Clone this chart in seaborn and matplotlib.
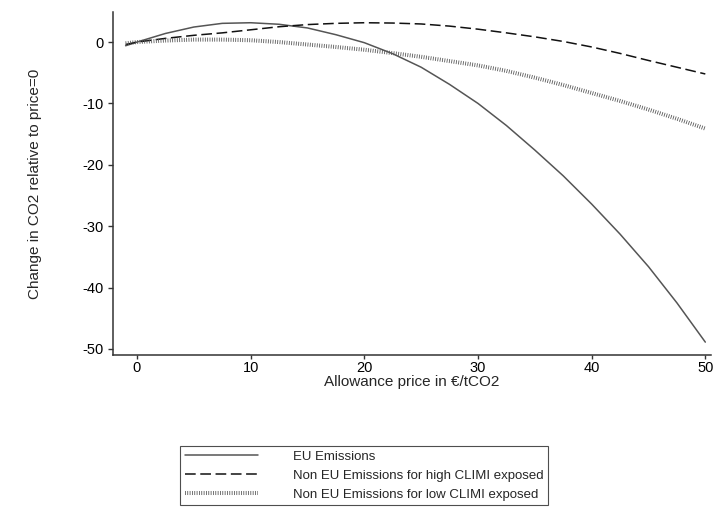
import numpy as np
import matplotlib
matplotlib.use("Agg")
import matplotlib.pyplot as plt
import seaborn as sns
from matplotlib.lines import Line2D

# values
price = [-1, 0, 2.5, 5, 7.5, 10, 12.5, 15, 17.5, 20, 22.5, 25,
         27.5, 30, 32.5, 35, 37.5, 40, 42.5, 45, 47.5, 50]
eu_emissions = [-0.6, 0.0, 1.4, 2.45, 3.05, 3.15, 2.9, 2.3, 1.2, -0.1, -1.9, -4.1,
                -6.9, -10.0, -13.6, -17.6, -21.8, -26.4, -31.3, -36.6, -42.5, -48.9]
non_eu_high = [-0.4, 0.0, 0.6, 1.1, 1.5, 2.0, 2.5, 2.85, 3.05, 3.15, 3.1, 2.95,
               2.6, 2.1, 1.5, 0.85, 0.1, -0.8, -1.85, -3.0, -4.1, -5.2]
non_eu_low = [-0.2, 0.0, 0.25, 0.4, 0.4, 0.3, 0.0, -0.4, -0.8, -1.25, -1.8, -2.4,
              -3.1, -3.8, -4.7, -5.8, -7.0, -8.3, -9.6, -11.0, -12.5, -14.1]

labels = ["EU Emissions",
          "Non EU Emissions for high CLIMI exposed",
          "Non EU Emissions for low CLIMI exposed"]
x_ticks = [0, 10, 20, 30, 40, 50]
y_ticks = [0, -10, -20, -30, -40, -50]

sns.set_style("ticks")
plt.rcParams["font.family"] = ["Liberation Sans", "DejaVu Sans"]

fig = plt.figure(figsize=(7.28, 5.08), dpi=100)
W, H = 728, 508
# plot box in pixels: left 113, right 711, top 12, bottom 355
ax = fig.add_axes([113 / W, 1 - 355 / H, 598 / W, 343 / H])

styles = [
    dict(color="#555555", lw=1.1, linestyle="-"),
    dict(color="#111111", lw=1.1, linestyle=(0, (7, 3))),
    dict(color="#555555", lw=2.9, linestyle=(0, (0.2, 0.38)), dash_capstyle="butt"),
]
series = [eu_emissions, non_eu_high, non_eu_low]

for vals, st in zip(series, styles):
    sns.lineplot(x=price, y=vals, ax=ax, legend=False, **st)

ax.set_xlim(-2.11, 50.5)
ax.set_ylim(-51.0, 4.9)
ax.set_xticks(x_ticks)
ax.set_yticks(y_ticks)
ax.set_yticklabels([str(v) for v in y_ticks], rotation=0)

for side in ["top", "right"]:
    ax.spines[side].set_visible(False)
for side in ["left", "bottom"]:
    ax.spines[side].set_color("#333333")
    ax.spines[side].set_linewidth(1.1)
ax.tick_params(axis="both", colors="#333333", labelcolor="black",
               width=1.0, labelsize=10.5)
ax.tick_params(axis="y", length=3.6, pad=3.0)
ax.tick_params(axis="x", length=3.0, pad=1.5)

ax.set_xlabel("Allowance price in €/tCO2", fontsize=11, labelpad=0)
ax.set_ylabel("Change in CO2 relative to price=0", fontsize=11)
ax.yaxis.set_label_coords(-0.119, 0.5)

handles = [Line2D([], [], **st) for st in styles]
leg = fig.legend(handles, labels, loc="upper center",
                 bbox_to_anchor=(0.5, 1 - 446 / H), borderaxespad=0,
                 frameon=True, fancybox=False, ncol=1,
                 handlelength=5.6, handletextpad=2.6,
                 borderpad=0.35, labelspacing=0.5, fontsize=9.5)
leg.get_frame().set_edgecolor("#222222")
leg.get_frame().set_linewidth(0.8)

fig.savefig("out.png", dpi=100, facecolor="white")
